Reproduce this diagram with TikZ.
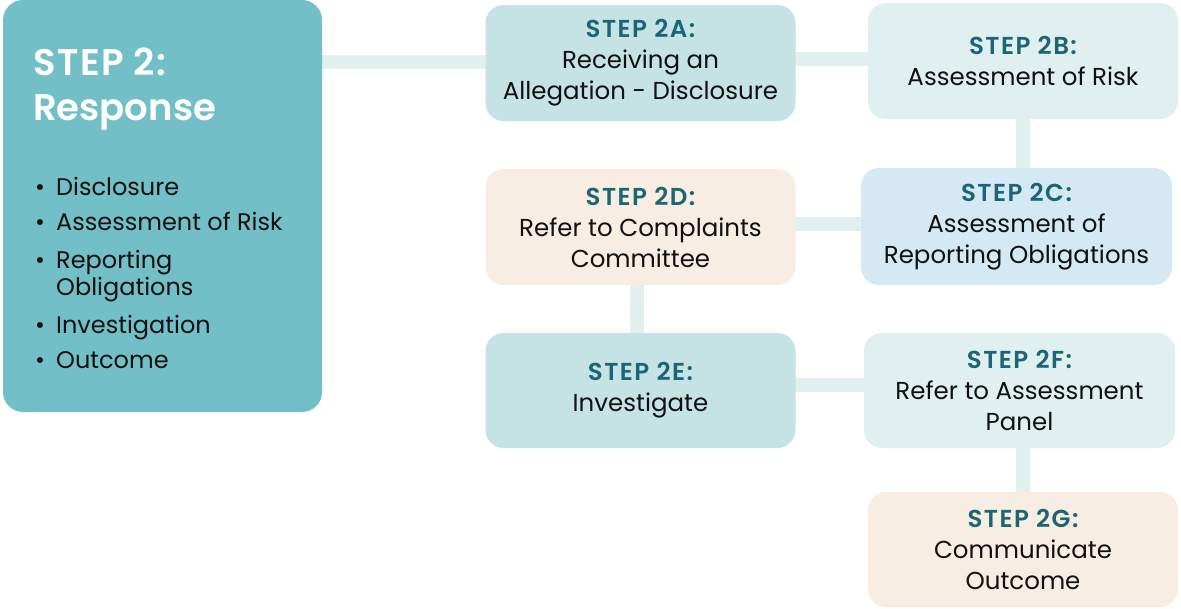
\documentclass[tikz,border=0pt]{standalone}
\usepackage{fontspec}
\setmainfont{Poppins}
\newfontfamily\semib{Poppins SemiBold}
\usetikzlibrary{backgrounds}
\definecolor{mainc}{HTML}{72BFC8}
\definecolor{tealc}{HTML}{C5E3E5}
\definecolor{palec}{HTML}{E0EFEF}
\definecolor{bluec}{HTML}{D5E9F4}
\definecolor{sandc}{HTML}{F7EDE2}
\definecolor{linkc}{HTML}{E3F0F0}
\definecolor{stepc}{HTML}{1B6575}
\definecolor{bodyc}{HTML}{111111}
\tikzset{
  x=1pt, y=-1pt,
  stepbox/.style={rounded corners=18pt, inner sep=0pt, minimum width=310pt, minimum height=116pt,
    align=center, font=\fontsize{24.5}{31}\selectfont, text=bodyc},
  conn/.style={draw=linkc, line width=14pt},
  ttl/.style={anchor=base west, inner sep=0pt, text=white, font=\fontsize{37}{46}\selectfont\semib},
  bul/.style={anchor=base west, inner sep=0pt, text=bodyc, font=\fontsize{24}{27}\selectfont},
}
\newcommand{\stp}[1]{{\color{stepc}\semib\addfontfeature{LetterSpace=6}#1}}
\begin{document}
\begin{tikzpicture}
\useasboundingbox (0,0) rectangle (1181,608);
\node[fill=mainc, rounded corners=20pt, minimum width=319pt, minimum height=412pt, inner sep=0pt] (main) at (162.5,206) {};
\node[ttl] (t1) at (33,75) {\addfontfeature{LetterSpace=4}STEP 2:};
\node[ttl] (t2) at (33,120) {Response};
\foreach \nm/\yy in {b1/195, b2/230, b3/268, b4/333, b5/368}
  \node[bul] (\nm) at (35,\yy) {\textbullet};
\node[bul] (l1) at (56,195) {Disclosure};
\node[bul] (l2) at (56,230) {Assessment of Risk};
\node[bul] (l3) at (56,268) {Reporting};
\node[bul] (l4) at (56,295) {Obligations};
\node[bul] (l5) at (56,333) {Investigation};
\node[bul] (l6) at (56,368) {Outcome};
\node[stepbox, fill=tealc] (a) at (640.5,63) {\stp{STEP 2A:}\\Receiving an\\Allegation - Disclosure};
\node[stepbox, fill=palec] (b) at (1023,61) {\stp{STEP 2B:}\\Assessment of Risk};
\node[stepbox, fill=bluec, minimum width=311pt, minimum height=117pt] (c) at (1016.5,226.5) {\stp{STEP 2C:}\\Assessment of\\Reporting Obligations};
\node[stepbox, fill=sandc] (d) at (640.5,227) {\stp{STEP 2D:}\\Refer to Complaints\\Committee};
\node[stepbox, fill=tealc, minimum height=115pt] (e) at (640.5,390.5) {\stp{STEP 2E:}\\Investigate};
\node[stepbox, fill=palec, minimum width=311pt, minimum height=115pt] (f) at (1019.5,390.5) {\stp{STEP 2F:}\\Refer to Assessment\\Panel};
\node[stepbox, fill=sandc, minimum height=115pt] (g) at (1023,549.5) {\stp{STEP 2G:}\\Communicate\\Outcome};
\begin{scope}[on background layer]
\draw[conn] (main.center |- 0,62) -- (a.center |- 0,62);
\draw[conn] (a.center |- 0,59) -- (b.center |- 0,59);
\draw[conn] (b.center) -- (b.center |- c.center);
\draw[conn] (d.center |- 0,224) -- (c.center |- 0,224);
\draw[conn] (e.center -| d.center) ++(-3.5,0) |- (d.center);
\draw[conn] (e.center |- 0,385) -- (f.center |- 0,385);
\draw[conn] (g.center) -- (g.center |- f.center);
\end{scope}
\end{tikzpicture}
\end{document}
